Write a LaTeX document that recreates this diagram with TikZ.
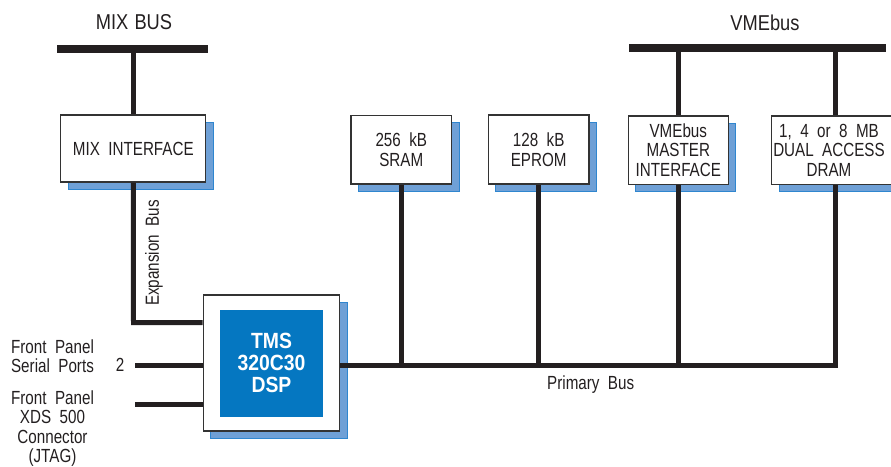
\documentclass[tikz,border=0pt]{standalone}
\usepackage{fontspec}
\setmainfont{Liberation Sans}[FakeStretch=0.8, WordSpace=2.0]
\newfontfamily\titlefont{Liberation Sans}[FakeStretch=0.85, WordSpace=1.2]
\newfontfamily\dspfont{Liberation Sans Bold}[FakeStretch=0.88]
\usetikzlibrary{shadows}
\definecolor{dspblue}{HTML}{0577C1}
\definecolor{shblue}{HTML}{6FA0D6}
\definecolor{shborder}{HTML}{2F86CF}
\definecolor{boxline}{HTML}{333333}
\definecolor{ink}{HTML}{231F20}
\tikzset{
  lbl/.style={font=\fontsize{19}{19.5}\selectfont, text=ink, align=center, inner sep=0pt},
  ttl/.style={font=\titlefont\fontsize{21.5}{24}\selectfont, text=ink, inner sep=0pt},
  box/.style={draw=boxline, line width=1.3pt, fill=white, inner sep=0pt,
    copy shadow={shadow xshift=7.5pt, shadow yshift=-7.5pt, fill=shblue, draw=shborder, line width=1pt}},
  bus/.style={draw=ink, line width=5pt, line join=miter},
  topbus/.style={draw=ink, line width=8pt},
}
\begin{document}
\begin{tikzpicture}[x=1pt,y=-1pt]
\useasboundingbox (0,0) rectangle (891,466);
\clip (0,0) rectangle (891,466);

% bus bars
\node[ttl] (mixbus) at (134,22.5) {MIX BUS};
\node[ttl] (vmebus) at (765,22.5) {VMEbus};
\coordinate (mixL) at (57,48.5);
\coordinate (mixR) at (208,48.5);
\coordinate (vmeL) at (629,48);
\coordinate (vmeR) at (886,48);
\draw[topbus] (mixL) -- (mixR);
\draw[topbus] (vmeL) -- (vmeR);

% boxes
\node[box, lbl, minimum width=145pt, minimum height=67pt] (mix) at (133.3,148.5) {MIX INTERFACE};
\node[box, lbl, minimum width=100.7pt, minimum height=68.7pt] (sram) at (401.3,149.7) {256 kB\\SRAM};
\node[box, lbl, minimum width=100.7pt, minimum height=69pt] (eprom) at (538.7,149.5) {128 kB\\EPROM};
\node[box, lbl, minimum width=100pt, minimum height=68.3pt] (vmem) at (678.3,150) {VMEbus\\MASTER\\INTERFACE};
\node[box, minimum width=140pt, minimum height=68.3pt] (dram) at (841.7,150) {};
\node[lbl] (dramtxt) at (829,150) {1, 4 or 8 MB\\DUAL ACCESS\\DRAM};

% DSP
\node[box, minimum width=136.4pt, minimum height=136pt] (dsp) at (271.5,363) {};
\node[fill=dspblue, minimum width=103pt, minimum height=106.7pt, inner sep=0pt,
  font=\dspfont\fontsize{22}{22}\selectfont, text=white, align=center] (dspin) at (271.5,363.3) {TMS\\320C30\\DSP};

% connections to top buses
\draw[bus] (mix.north) -- (mix.north |- mixL);
\draw[bus] (vmem.north) -- (vmem.north |- vmeL);
\coordinate (pbend) at (835.5,365);
\draw[bus] (pbend |- vmeL) -- (pbend |- dram.north);

% expansion bus
\coordinate (expc) at (133.5,322.5);
\draw[bus] (mix.south) -- (expc) -- (dsp.west |- expc);
\node[lbl, rotate=90] (explbl) at (154,253) {Expansion Bus};

% primary bus
\draw[bus] (dsp.east |- pbend) -- (pbend) -- (pbend |- dram.south);
\draw[bus] (sram.south) -- (sram.south |- pbend);
\draw[bus] (eprom.south) -- (eprom.south |- pbend);
\draw[bus] (vmem.south) -- (vmem.south |- pbend);
\node[lbl] (pblbl) at (590.7,385) {Primary Bus};

% front panel
\coordinate (ser) at (135,365);
\coordinate (jtag) at (135,404);
\draw[bus] (ser) -- (dsp.west |- ser);
\draw[bus] (jtag) -- (dsp.west |- jtag);
\node[lbl] (two) at (120,364.5) {2};
\node[lbl] (serlbl) at (52.5,356) {Front Panel\\Serial Ports};
\node[lbl] (jtaglbl) at (52.5,428.5) {Front Panel\\XDS 500\\Connector\\(JTAG)};
\end{tikzpicture}
\end{document}
